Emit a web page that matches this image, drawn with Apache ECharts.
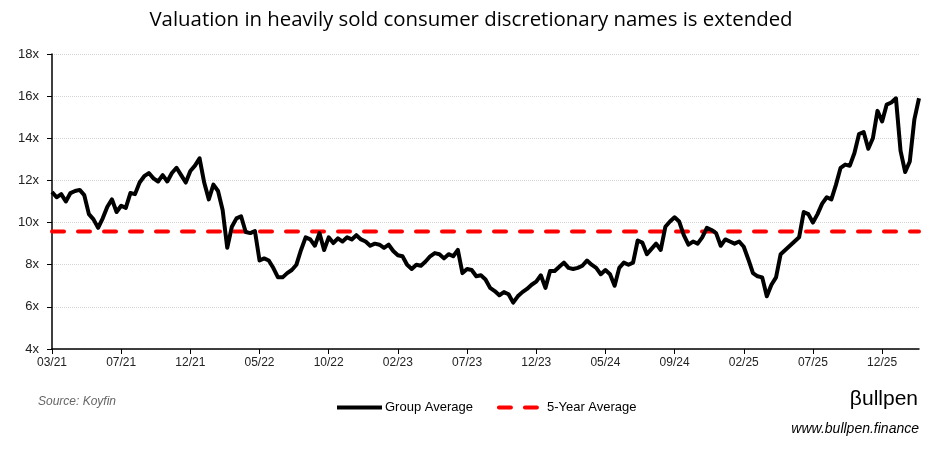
<!DOCTYPE html>
<html>
<head>
<meta charset="utf-8">
<script src="https://cdn.jsdelivr.net/npm/echarts@6/dist/echarts.min.js"></script>
<style>
html,body{margin:0;padding:0;background:#fff;}
#chart{width:942px;height:451px;}
</style>
</head>
<body>
<div id="chart"></div>
<script>
// Approximate weekly-ish samples (P/E multiple, x)
const groupAverage = [
 11.45,11.2,11.35,11.0,11.4,11.5,11.55,11.3,10.4,10.15,
 9.75,10.2,10.75,11.1,10.5,10.8,10.7,11.4,11.35,11.9,
 12.2,12.35,12.1,11.95,12.25,11.95,12.35,12.6,12.25,11.9,
 12.45,12.7,13.05,11.9,11.1,11.8,11.5,10.6,8.8,9.8,
 10.2,10.3,9.55,9.5,9.6,8.2,8.3,8.2,7.84,7.4,
 7.4,7.6,7.75,8.0,8.7,9.3,9.2,8.9,9.5,8.7,
 9.3,9.03,9.25,9.1,9.3,9.2,9.4,9.2,9.1,8.9,
 9.0,8.95,8.8,8.95,8.65,8.45,8.4,8.0,7.8,8.0,
 7.95,8.15,8.4,8.55,8.5,8.3,8.5,8.4,8.7,7.6,
 7.8,7.75,7.45,7.5,7.3,6.9,6.75,6.55,6.7,6.6,
 6.2,6.5,6.7,6.85,7.05,7.2,7.5,6.9,7.7,7.7,
 7.9,8.1,7.85,7.8,7.85,7.95,8.2,8.0,7.85,7.55,
 7.75,7.55,7.0,7.85,8.1,8.0,8.1,9.15,9.05,8.5,
 8.75,9.0,8.7,9.8,10.05,10.25,10.05,9.4,8.95,9.1,
 9.0,9.3,9.75,9.65,9.5,8.9,9.2,9.1,9.0,9.1,
 8.85,8.25,7.6,7.45,7.4,6.5,7.05,7.4,8.5,8.7,
 8.9,9.1,9.3,10.5,10.4,10.0,10.4,10.9,11.2,11.1,
 11.8,12.6,12.75,12.7,13.3,14.2,14.3,13.5,14.0,15.3,
 14.8,15.6,15.7,15.9,13.4,12.4,12.9,14.9,15.9
];
const fiveYearAverage = 9.58;
const xTickLabels = ['03/21','07/21','12/21','05/22','10/22','02/23','07/23','12/23','05/24','09/24','02/25','07/25','12/25'];
const yTicks = [4,6,8,10,12,14,16,18];
const pointsPerTick = 15;

const categories = groupAverage.map((_, i) => (i % pointsPerTick === 0 && xTickLabels[i / pointsPerTick]) ? xTickLabels[i / pointsPerTick] : String(i));
const avgLine = groupAverage.map(() => fiveYearAverage);

const chart = echarts.init(document.getElementById('chart'), null, {renderer:'canvas'});
const sans = '"Liberation Sans", Arial, sans-serif';
chart.setOption({
  animation:false,
  backgroundColor:'#fff',
  title:{
    text:'Valuation in heavily sold consumer discretionary names is extended',
    left:'center', top:5,
    textStyle:{fontFamily:'"Open Sans", "Noto Sans", sans-serif', fontSize:20.4, fontWeight:'normal', color:'#000'}
  },
  grid:{left:52, right:23, top:54, bottom:102, containLabel:false},
  legend:{
    left:330, top:396,
    itemWidth:45, itemHeight:14, itemGap:24,
    itemStyle:{opacity:0},
    lineStyle:{width:4},
    textStyle:{fontFamily:sans, fontSize:13, color:'#000', padding:[0,0,0,-2]},
    data:[{name:'Group Average'},{name:'5-Year Average'}]
  },
  xAxis:{
    type:'category',
    data:categories,
    boundaryGap:false,
    axisLine:{lineStyle:{color:'#000', width:1.5}},
    axisTick:{show:true, interval:pointsPerTick-1, length:5, lineStyle:{color:'#000'}},
    axisLabel:{interval:pointsPerTick-1, color:'#222', fontSize:12, fontFamily:sans, margin:8,
      formatter:(v, i) => (i % pointsPerTick === 0 && xTickLabels[i / pointsPerTick]) ? xTickLabels[i / pointsPerTick] : ''},
    splitLine:{show:false}
  },
  yAxis:{
    type:'value',
    min:yTicks[0], max:yTicks[yTicks.length-1], interval:yTicks[1]-yTicks[0],
    axisLine:{show:true, lineStyle:{color:'#000', width:1.5}},
    axisTick:{show:true, length:5, lineStyle:{color:'#000'}},
    axisLabel:{formatter:'{value}x', color:'#222', fontSize:13, fontFamily:sans, margin:13},
    splitLine:{show:true, lineStyle:{color:'#d4d4d4', type:'dotted', width:1}}
  },
  series:[
    {
      name:'Group Average', type:'line', data:groupAverage,
      showSymbol:false, symbol:'none', smooth:false,
      lineStyle:{color:'#000', width:4, join:'round'},
      itemStyle:{color:'#000'}, z:3
    },
    {
      name:'5-Year Average', type:'line', data:avgLine,
      showSymbol:false, symbol:'none',
      lineStyle:{color:'#ff0000', width:4, type:[12,14], cap:'round'},
      itemStyle:{color:'#ff0000'}, z:2
    }
  ],
  graphic:[
    {type:'text', left:38, top:396, style:{text:'Source: Koyfin', fill:'#666', font:'italic 12px '+sans}},
    {type:'text', right:24, top:389, style:{text:'βullpen', fill:'#000', font:'21px '+sans}},
    {type:'text', right:23, top:422, style:{text:'www.bullpen.finance', fill:'#000', font:'italic 14px '+sans}}
  ]
});
</script>
</body>
</html>
